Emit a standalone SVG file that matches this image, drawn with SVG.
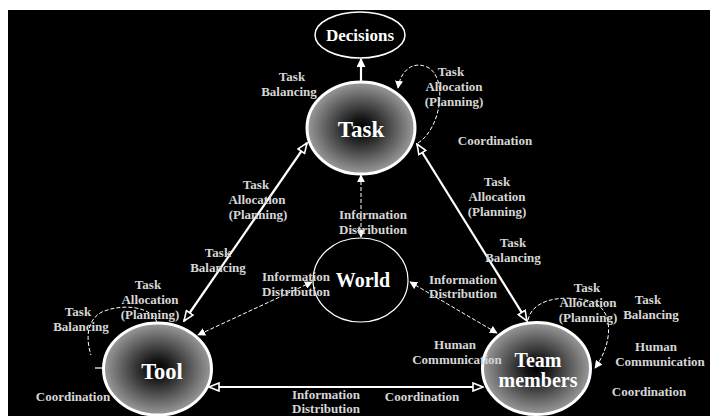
<svg xmlns="http://www.w3.org/2000/svg" width="710" height="417" viewBox="0 0 710 417">
  <defs>
    <radialGradient id="ball" cx="50%" cy="50%" r="50%">
      <stop offset="0" stop-color="#000"/>
      <stop offset="0.2" stop-color="#141414"/>
      <stop offset="1" stop-color="#9a9a9a"/>
    </radialGradient>
    <marker id="open" viewBox="0 0 12 10" refX="11" refY="5" markerWidth="12" markerHeight="10" markerUnits="userSpaceOnUse" orient="auto-start-reverse">
      <path d="M1,1 L11,5 L1,9 Z" fill="#000" stroke="#fff" stroke-width="1.6"/>
    </marker>
    <marker id="solid" viewBox="0 0 10 10" refX="9" refY="5" markerWidth="9" markerHeight="9" markerUnits="userSpaceOnUse" orient="auto-start-reverse">
      <path d="M0,0 L10,5 L0,10 Z" fill="#fff"/>
    </marker>
    <marker id="small" viewBox="0 0 10 10" refX="9" refY="5" markerWidth="8" markerHeight="8" markerUnits="userSpaceOnUse" orient="auto-start-reverse">
      <path d="M0,0 L10,5 L0,10 Z" fill="#fff"/>
    </marker>
  </defs>
  <style>
    text { font-family: "Liberation Serif", "Times New Roman", serif; font-weight: bold; text-anchor: middle; }
    .lbl { font-size: 13px; fill: #d6d6d6; }
    .ttl { fill: #fff; }
    .ball { fill: url(#ball); stroke: #fff; stroke-width: 3; }
    .plain { fill: #000; stroke: #fff; }
    .solid { stroke: #fff; stroke-width: 2.2; fill: none; }
    .dash { stroke: #fff; stroke-width: 1; stroke-dasharray: 4 2; fill: none; }
  </style>

  <rect x="0" y="0" width="710" height="417" fill="#fff"/>
  <rect x="8" y="10" width="702" height="406" fill="#000"/>

  <!-- nodes -->
  <g id="decisions">
    <ellipse class="plain" cx="360" cy="35" rx="45" ry="23" stroke-width="1.5"/>
    <text class="ttl" x="360" y="41" font-size="17">Decisions</text>
  </g>
  <g id="task">
    <ellipse class="ball" cx="361" cy="128" rx="54" ry="46"/>
    <text class="ttl" x="361" y="137" font-size="23">Task</text>
  </g>
  <g id="world">
    <ellipse class="plain" cx="360.5" cy="280" rx="47.5" ry="42" stroke-width="1.2"/>
    <text class="ttl" x="363" y="287" font-size="20">World</text>
  </g>
  <g id="tool">
    <ellipse class="ball" cx="157.5" cy="369" rx="54" ry="46"/>
    <text class="ttl" x="162" y="379" font-size="22.5">Tool</text>
  </g>
  <g id="team">
    <ellipse class="ball" cx="536.5" cy="368.5" rx="54" ry="46"/>
    <text class="ttl" x="538" y="367" font-size="20">Team</text>
    <text class="ttl" x="538" y="387" font-size="20">members</text>
  </g>

  <!-- connectors -->
  <g id="connectors">
    <line class="solid" x1="361" y1="81" x2="361" y2="59" marker-end="url(#solid)"/>
    <line class="solid" x1="184" y1="321" x2="307" y2="143" marker-start="url(#open)" marker-end="url(#open)"/>
    <line class="solid" x1="417" y1="144" x2="527" y2="321" marker-start="url(#open)" marker-end="url(#open)"/>
    <line class="solid" x1="209" y1="387" x2="483" y2="387" marker-start="url(#open)" marker-end="url(#open)"/>

    <line class="dash" x1="361" y1="175" x2="361" y2="237" marker-start="url(#small)" marker-end="url(#small)"/>
    <line class="dash" x1="312" y1="282" x2="198" y2="335" marker-start="url(#small)" marker-end="url(#small)"/>
    <line class="dash" x1="410" y1="282" x2="497" y2="333" marker-start="url(#small)" marker-end="url(#small)"/>

    <path class="dash" d="M418,143 C442,128 448,76 427,67 C410,60 400,74 398,88" marker-end="url(#small)"/>
    <path class="dash" d="M528,320 C532,300 560,294 590,301 C616,309 612,345 595,368" marker-end="url(#small)"/>
    <path class="dash" d="M157,322 C150,305 120,304 102,312 C86,320 86,340 91,355"/>
    <line x1="95" y1="368" x2="104" y2="368" stroke="#fff" stroke-width="1.2"/>
  </g>

  <!-- labels -->
  <g id="labels" class="lbl">
    <text class="lbl" x="292" y="81">Task</text>
    <text class="lbl" x="289" y="96">Balancing</text>

    <text class="lbl" x="451" y="76">Task</text>
    <text class="lbl" x="454" y="91">Allocation</text>
    <text class="lbl" x="454" y="106">(Planning)</text>

    <text class="lbl" x="495" y="145">Coordination</text>

    <text class="lbl" x="497" y="186">Task</text>
    <text class="lbl" x="497" y="201">Allocation</text>
    <text class="lbl" x="497" y="216">(Planning)</text>

    <text class="lbl" x="513" y="247">Task</text>
    <text class="lbl" x="513" y="262">Balancing</text>

    <text class="lbl" x="256" y="189">Task</text>
    <text class="lbl" x="257" y="204">Allocation</text>
    <text class="lbl" x="258" y="219">(Planning)</text>

    <text class="lbl" x="218" y="257">Task</text>
    <text class="lbl" x="218" y="272">Balancing</text>

    <text class="lbl" x="373" y="219">Information</text>
    <text class="lbl" x="373" y="234">Distribution</text>

    <text class="lbl" x="296" y="281">Information</text>
    <text class="lbl" x="296" y="296">Distribution</text>

    <text class="lbl" x="463" y="284">Information</text>
    <text class="lbl" x="463" y="298">Distribution</text>

    <text class="lbl" x="148" y="289">Task</text>
    <text class="lbl" x="150" y="304">Allocation</text>
    <text class="lbl" x="150" y="319">(Planning)</text>

    <text class="lbl" x="78" y="316">Task</text>
    <text class="lbl" x="81" y="331">Balancing</text>

    <text class="lbl" x="73" y="401">Coordination</text>

    <text class="lbl" x="326" y="399">Information</text>
    <text class="lbl" x="326" y="413">Distribution</text>
    <text class="lbl" x="422" y="401">Coordination</text>

    <text class="lbl" x="455" y="349">Human</text>
    <text class="lbl" x="457" y="364">Communication</text>

    <text class="lbl" x="587" y="292">Task</text>
    <text class="lbl" x="588" y="307">Allocation</text>
    <text class="lbl" x="588" y="322">(Planning)</text>

    <text class="lbl" x="648" y="304">Task</text>
    <text class="lbl" x="651" y="319">Balancing</text>

    <text class="lbl" x="656" y="351">Human</text>
    <text class="lbl" x="660" y="366">Communication</text>

    <text class="lbl" x="649" y="396">Coordination</text>
  </g>
</svg>
